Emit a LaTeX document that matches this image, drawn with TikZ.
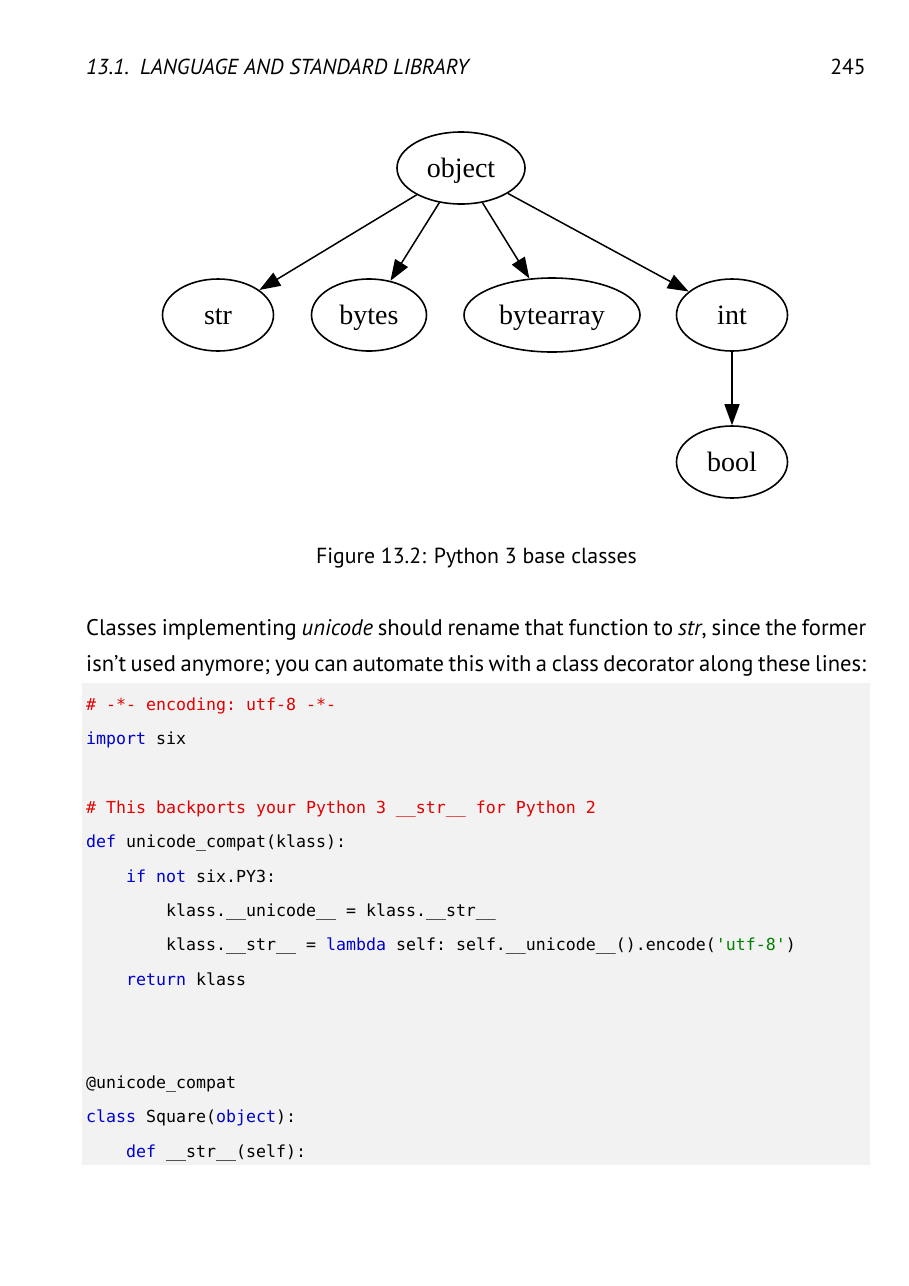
\documentclass[tikz,border=0pt]{standalone}
\usepackage{fontspec}
\setmainfont{PT Sans}
\setmonofont{DejaVu Sans Mono}
\newfontfamily\graphfont{Liberation Serif}
\usetikzlibrary{shapes.geometric,arrows.meta}
\definecolor{codebg}{RGB}{242,242,242}
\definecolor{cmtred}{RGB}{228,0,0}
\definecolor{kwblue}{RGB}{0,0,205}
\definecolor{strgreen}{RGB}{0,128,0}
\newcommand{\kw}[1]{\textcolor{kwblue}{#1}}
\newcommand{\cmt}[1]{\textcolor{cmtred}{#1}}

\begin{document}
\begin{tikzpicture}[x=1pt,y=-1pt,
  cls/.style={draw,ellipse,line width=1.6pt,inner sep=0pt,minimum height=72pt,
    text height=24pt,text depth=6pt,font=\graphfont\fontsize{28}{28}\selectfont},
  inherit/.style={-{Triangle[length=21pt,width=15pt]},line width=1.5pt},
  bodytext/.style={anchor=base west,inner sep=0pt,font=\fontsize{22.6}{28}\selectfont},
  codeline/.style={anchor=base west,inner sep=0pt,font=\ttfamily\fontsize{16.6}{20}\selectfont}]
\useasboundingbox (0,0) rectangle (909,1286);

% running head
\node (head) [anchor=base west,inner sep=0pt,font=\itshape\fontsize{21.7}{26}\selectfont]
  at (86,74) {13.1.\hspace{0.5em}LANGUAGE AND STANDARD LIBRARY};
\node (pagenum) [anchor=base east,inner sep=0pt,font=\fontsize{21.7}{26}\selectfont]
  at (866,74) {245};

% class graph
\node (object) [cls,minimum width=128pt] at (461,168) {object};
\node (str) [cls,minimum width=111pt] at (218,315) {str};
\node (bytes) [cls,minimum width=115pt] at (369,315) {bytes};
\node (bytearray) [cls,minimum width=176pt,minimum height=74pt] at (552,315) {bytearray};
\node (int) [cls,minimum width=111pt] at (732,315) {int};
\node (bool) [cls,minimum width=111pt] at (732,462) {bool};
\draw [inherit] (object) -- (str);
\draw [inherit] (object) -- (bytes);
\draw [inherit] (object) -- (bytearray);
\draw [inherit] (object) -- (int);
\draw [inherit] (int) -- (bool);

\node (caption) [anchor=base,inner sep=0pt,font=\fontsize{21.8}{26}\selectfont]
  at (476.5,563) {Figure 13.2: Python 3 base classes};

% paragraph, two justified lines
\node (lineA) [bodytext] at (86,635) {\hbox to 780pt{Classes implementing \textit{unicode} should rename that function to \textit{str}, since the former}};
\node (lineB) [bodytext] at (86,671) {\hbox to 780pt{isn’t used anymore; you can automate this with a class decorator along these lines:}};

% code listing
\fill [codebg] (82,683) rectangle (870,1165);
\node (code1) [codeline] at (86,710) {\cmt{\# -*- encoding: utf-8 -*-}};
\node (code2) [codeline] at (86,744.4) {\kw{import} six};
\node (code4) [codeline] at (86,813.2) {\cmt{\# This backports your Python 3 \_\_str\_\_ for Python 2}};
\node (code5) [codeline] at (86,847.6) {\kw{def} unicode\_compat(klass):};
\node (code6) [codeline] at (126,882) {\kw{if} \kw{not} six.PY3:};
\node (code7) [codeline] at (166,916.4) {klass.\_\_unicode\_\_ = klass.\_\_str\_\_};
\node (code8) [codeline] at (166,950.8) {klass.\_\_str\_\_ = \kw{lambda} self: self.\_\_unicode\_\_().encode(\textcolor{strgreen}{'utf-8'})};
\node (code9) [codeline] at (126,985.2) {\kw{return} klass};
\node (code12) [codeline] at (86,1088.4) {@unicode\_compat};
\node (code13) [codeline] at (86,1122.8) {\kw{class} Square(\kw{object}):};
\node (code14) [codeline] at (126,1157.2) {\kw{def} \_\_str\_\_(self):};
\end{tikzpicture}
\end{document}
